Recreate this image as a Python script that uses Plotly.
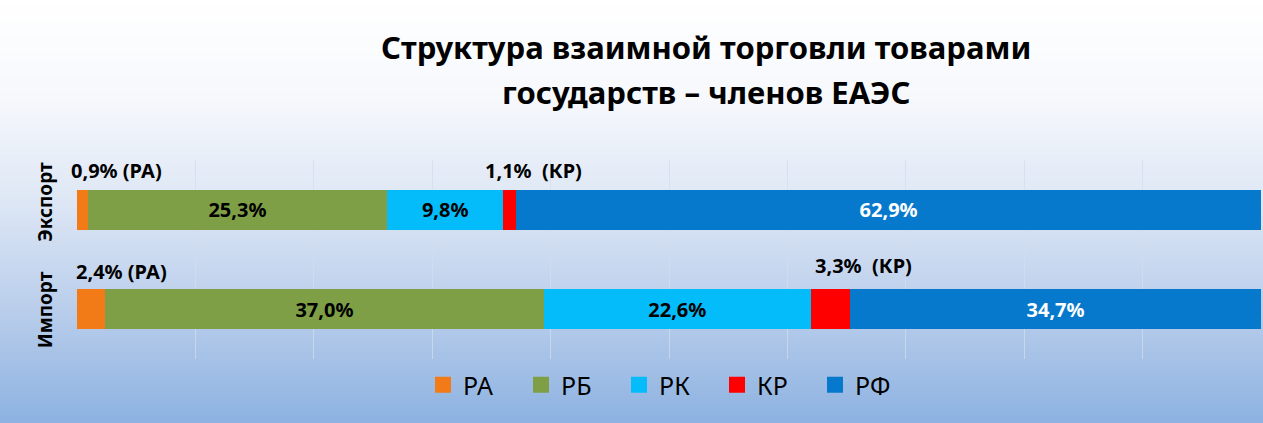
import plotly.graph_objects as go

# ---- data ----
categories = ["Экспорт", "Импорт"]
countries = ["РА", "РБ", "РК", "КР", "РФ"]
ra = [0.9, 2.4]
rb = [25.3, 37.0]
rk = [9.8, 22.6]
kr = [1.1, 3.3]
rf = [62.9, 34.7]
title_lines = ["Структура взаимной торговли товарами", "государств – членов ЕАЭС"]

series = [ra, rb, rk, kr, rf]
colors = ["#F27A17", "#7F9F46", "#05BCFB", "#FF0000", "#0779CC"]
inside_text_colors = ["black", "black", "black", "black", "white"]
FONT = "Noto Sans"
LBL = 20

W, H = 1263, 423
ML, MR, MT, MB = 77, 2, 160, 64
PW, PH = W - ML - MR, H - MT - MB


def fmt(v):
    return f"{v:.1f}".replace(".", ",") + "%"


fig = go.Figure()
for i, (name, vals) in enumerate(zip(countries, series)):
    show_inside = name in ("РБ", "РК", "РФ")
    fig.add_trace(go.Bar(
        y=categories, x=vals, name=name, orientation="h",
        marker=dict(color=colors[i], line=dict(width=0)),
        text=[fmt(v) for v in vals] if show_inside else None,
        textposition="inside" if show_inside else "none",
        insidetextanchor="middle",
        textangle=0,
        textfont=dict(family=FONT, size=LBL, color=inside_text_colors[i], weight="bold"),
        hoverinfo="x+name",
        showlegend=False,
    ))

# legend entries (larger square symbols)
for i, name in enumerate(countries):
    fig.add_trace(go.Scatter(
        x=[None], y=[None], mode="markers", name=name,
        marker=dict(symbol="square", size=16, color=colors[i]),
        showlegend=True, hoverinfo="skip",
    ))

# outside labels for small segments (РА, КР)
annotations = []
for ci, cat in enumerate(categories):
    starts = [0.0]
    for s in series[:-1]:
        starts.append(starts[-1] + s[ci])
    annotations.append(dict(
        x=starts[0], y=ci, xref="x", yref="y", xanchor="left", yanchor="middle",
        text=f"{fmt(ra[ci])} (РА)", showarrow=False, xshift=-8 if ci == 0 else -3,
        yshift=39 if ci == 0 else 38,
        font=dict(family=FONT, size=LBL, color="black", weight="bold")))
    annotations.append(dict(
        x=starts[3], y=ci, xref="x", yref="y", xanchor="left", yanchor="middle",
        text=f"{fmt(kr[ci])}  (КР)", showarrow=False, xshift=-20 if ci == 0 else 2,
        yshift=39 if ci == 0 else 44,
        font=dict(family=FONT, size=LBL, color="black", weight="bold")))

# rotated category labels
for ci, cat in enumerate(categories):
    annotations.append(dict(
        x=-32 / PW, y=ci, xref="paper", yref="y", xanchor="center", yanchor="middle",
        text=cat, textangle=-90, showarrow=False, yshift=8 if ci == 0 else -1,
        font=dict(family=FONT, size=19, color="black", weight="bold")))

# title lines
for li, (txt, ypix) in enumerate(zip(title_lines, [47, 92])):
    annotations.append(dict(
        x=(706 - ML) / PW, y=(MT + PH - ypix) / PH, xref="paper", yref="paper",
        xanchor="center", yanchor="middle", text=txt, showarrow=False,
        font=dict(family=FONT, size=31, color="black", weight="bold")))

# gradient background as bands
stops = [(0, (255, 255, 255)), (100, (246, 248, 252)), (200, (222, 231, 245)),
         (300, (189, 208, 236)), (423, (141, 178, 225))]


def col_at(y):
    for (y0, c0), (y1, c1) in zip(stops[:-1], stops[1:]):
        if y0 <= y <= y1:
            t = (y - y0) / (y1 - y0)
            return tuple(round(a + (b - a) * t) for a, b in zip(c0, c1))
    return stops[-1][1]


shapes = []
step = 3
for yp in range(0, H, step):
    c = col_at(yp + step / 2)
    shapes.append(dict(
        type="rect", xref="paper", yref="paper", layer="below",
        x0=-ML / PW - 0.01, x1=(W - ML) / PW + 0.01,
        y0=(MT + PH - yp - step - 0.5) / PH, y1=(MT + PH - yp + 0.5) / PH,
        fillcolor=f"rgb({c[0]},{c[1]},{c[2]})", line=dict(width=0)))

fig.update_layout(
    width=W, height=H,
    margin=dict(l=ML, r=MR, t=MT, b=MB, pad=0),
    barmode="stack", bargap=0.6,
    paper_bgcolor="rgba(0,0,0,0)", plot_bgcolor="rgba(0,0,0,0)",
    font=dict(family=FONT, color="black"),
    xaxis=dict(range=[0, 100], dtick=10, showgrid=True,
               gridcolor="rgba(210,220,238,0.75)", gridwidth=1,
               showticklabels=False, zeroline=False, showline=False, ticks=""),
    yaxis=dict(range=[1.5, -0.5], showticklabels=False, showgrid=False,
               zeroline=False, showline=False, ticks=""),
    legend=dict(orientation="h", x=(423 - ML) / PW, xanchor="left",
                y=-(385 - MT - PH) / PH, yanchor="middle",
                font=dict(family=FONT, size=25, color="black"),
                bgcolor="rgba(0,0,0,0)", entrywidth=53, entrywidthmode="pixels",
                traceorder="normal", itemclick=False, itemsizing="trace"),
    annotations=annotations,
    shapes=shapes,
    showlegend=True,
    uniformtext=dict(mode="show", minsize=10),
)

fig.write_html("out.html", config={"displayModeBar": False})
